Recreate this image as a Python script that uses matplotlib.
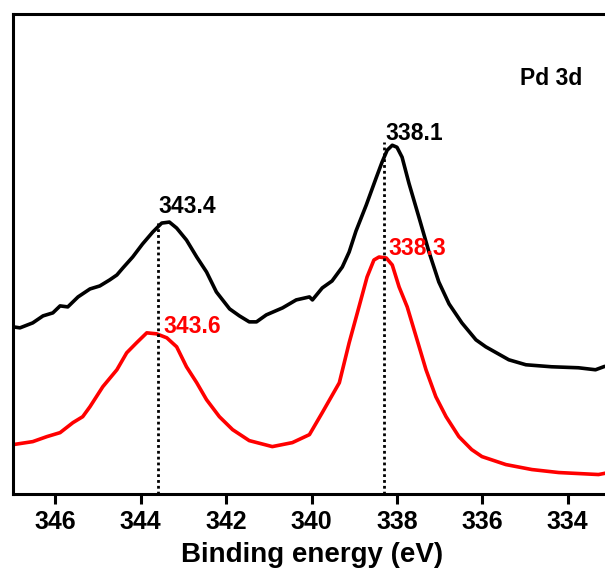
import matplotlib
matplotlib.use("Agg")
import matplotlib.pyplot as plt

# ---- Pd 3d spectra (binding energy in eV, intensity in a.u.) ----
black_be = [346.99, 346.83, 346.53, 346.29, 346.06, 345.89, 345.71, 345.47, 345.19, 344.96,
            344.73, 344.56, 344.42, 344.19, 343.96, 343.72, 343.51, 343.33, 343.16, 342.93,
            342.69, 342.46, 342.23, 341.92, 341.69, 341.46, 341.29, 341.06, 340.68, 340.36,
            340.05, 339.98, 339.75, 339.52, 339.28, 339.12, 338.96, 338.72, 338.49, 338.35,
            338.23, 338.11, 338.00, 337.88, 337.72, 337.48, 337.25, 337.02, 336.78, 336.48,
            336.15, 335.92, 335.38, 334.98, 334.38, 333.75, 333.35, 333.16]
black_int = [168, 167, 172, 179, 182, 189, 188, 198, 206, 209,
             215, 220, 227, 238, 251, 263, 272, 273, 267, 255,
             238, 223, 203, 186, 179, 173, 173, 180, 187, 195,
             198, 195, 207, 214, 228, 243, 264, 290, 317, 333,
             345, 350, 348, 338, 312, 277, 243, 213, 191, 172,
             155, 148, 135, 130, 128, 127, 125, 128]

red_be = [346.99, 346.53, 346.20, 345.89, 345.59, 345.36, 345.19, 344.89, 344.56, 344.33,
          344.10, 343.86, 343.63, 343.39, 343.16, 342.93, 342.69, 342.46, 342.16, 341.85,
          341.46, 340.92, 340.45, 340.05, 339.75, 339.35, 339.12, 338.89, 338.70, 338.54,
          338.42, 338.25, 338.11, 337.95, 337.76, 337.55, 337.32, 337.09, 336.85, 336.55,
          336.25, 336.01, 335.45, 334.84, 334.21, 333.28, 333.16]
red_int = [50, 53, 58, 62, 72, 78, 88, 108, 125, 142,
           152, 162, 161, 157, 148, 128, 112, 95, 78, 65,
           54, 48, 52, 60, 82, 112, 152, 188, 218, 235,
           238, 237, 230, 208, 188, 158, 125, 98, 78, 58,
           45, 38, 30, 25, 22, 20, 21]

# peak labels: (text, x, y, colour)
peak_labels = [("343.4", 343.58, 282, "black"),
               ("343.6", 343.46, 162, "red"),
               ("338.1", 338.28, 355, "black"),
               ("338.3", 338.21, 240, "red")]
# dotted guide lines: (position, top)
guide_lines = [(343.6, 275), (338.3, 353)]

xticks = [346, 344, 342, 340, 338, 336, 334]

plt.rcParams['font.family'] = ['Liberation Sans', 'DejaVu Sans']
plt.rcParams['font.weight'] = 'bold'

fig = plt.figure(figsize=(6.05, 5.73), dpi=100)
ax = fig.add_axes([0.021, 0.137, 0.988, 0.8394])

ax.plot(black_be, black_int, color='black', lw=2.6, solid_joinstyle='round')
ax.plot(red_be, red_int, color='red', lw=2.6, solid_joinstyle='round')

for pos, top in guide_lines:
    ax.plot([pos, pos], [0, top], color='black', lw=2.0, linestyle=(0, (1, 1.1)))

for txt, x, y, c in peak_labels:
    ax.text(x, y, txt, color=c, fontsize=16.5, fontweight='bold', ha='left', va='baseline')

ax.text(335.11, 410, "Pd 3d", fontsize=16.5, fontweight='bold', ha='left', va='baseline')

ax.set_xlim(347, 333)
ax.set_ylim(0, 482)
ax.set_xticks(xticks)
ax.set_xticklabels([str(t) for t in xticks], fontsize=18, fontweight='bold')
ax.set_yticks([])
ax.tick_params(axis='x', direction='out', length=7, width=2.2, pad=4)
for s in ax.spines.values():
    s.set_linewidth(2.2)

ax.set_xlabel("Binding energy (eV)", fontsize=20, fontweight='bold', labelpad=6)

fig.savefig("out.png", dpi=100)
